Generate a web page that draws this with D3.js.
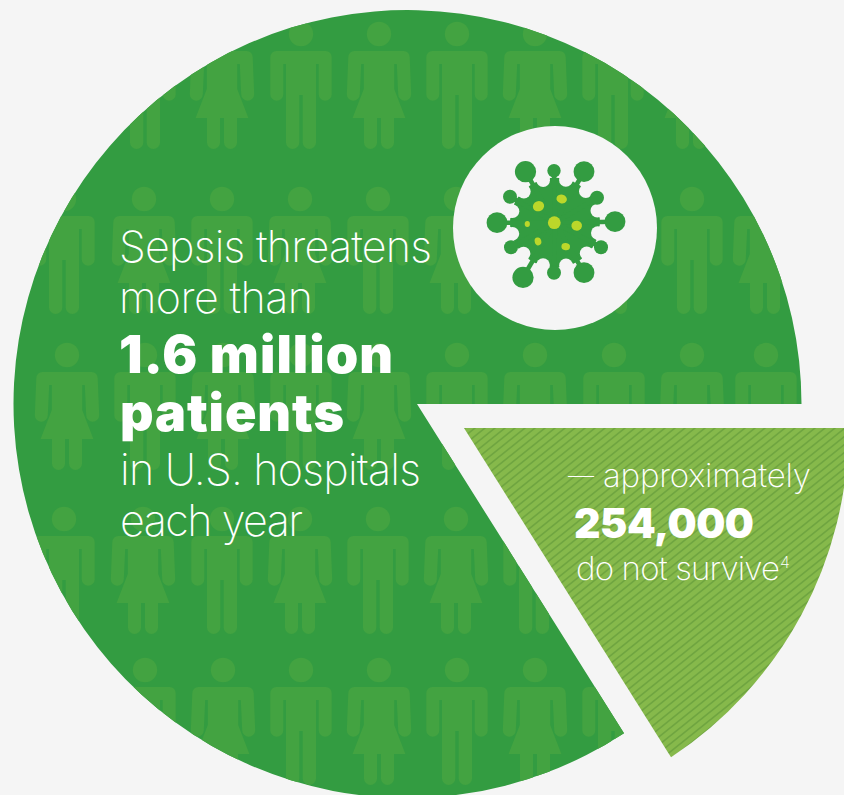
<!DOCTYPE html>
<html><head><meta charset="utf-8">
<script src="https://cdn.jsdelivr.net/npm/d3@7"></script>
<style>html,body{margin:0;padding:0;background:#f5f5f5;overflow:hidden}svg{display:block}</style>
</head><body><div id="chart"></div>
<script>
// ---- data ----
const sliceNames = ["do not survive", "survive"];
const sliceShares = [15.74, 84.26];          // % of 1.6 million patients, as drawn
const labelLight = ["Sepsis threatens", "more than", "in U.S. hospitals", "each year"];
const labelBold = ["1.6 million", "patients"];
const sliceLabels = ["—", "approximately", "254,000", "do not survive"];
const rowY = [34, 199, 355, 519, 670];
const rowX = [
  [145,222,301,379,457,535,613,691],
  [64,144,222,300,378,456,534,612,692,765],
  [67,145,223,301,379,457,535,614,692,766],
  [64,143,222,300,378,456,534],
  [145,223,301,379,457,535,613]
];
const rowFirst = ["M","M","W","M","M"];

const W = 844, H = 795;
const BG = "#f5f5f5", GREEN = "#339c41", FIG = "#43a341", LIME = "#86b94b", STRIPE = "#6fa540", YEL = "#bcd72a";
const svg = d3.select("#chart").append("svg").attr("width", W).attr("height", H);
const defs = svg.append("defs");
svg.append("rect").attr("width", W).attr("height", H).attr("fill", BG);

const pie = d3.pie().sort(null).startAngle(Math.PI/2).endAngle(Math.PI/2 + 2*Math.PI);
const arcs = pie(sliceShares);
const R = 394;
const wedge = (a, cx, cy, ax, ay) => {
  const p = d3.path();
  p.arc(cx, cy, R, a.startAngle - Math.PI/2, a.endAngle - Math.PI/2);
  p.lineTo(ax, ay);
  p.closePath();
  return p.toString();
};
const mainD = wedge(arcs[1], 407.5, 404, 417, 404);
defs.append("clipPath").attr("id","mainClip").append("path").attr("d", mainD);
svg.append("path").attr("d", mainD).attr("fill", GREEN);

// pictogram
const man = "M-24.7,0H24.7a6,6 0 0 1 6,6V43.2a6.5,6.5 0 0 1 -13,0V13H15V91.4a6.65,6.65 0 0 1 -13.3,0V44H-1.7V91.4a6.65,6.65 0 0 1 -13.3,0V13H-17.7V43.2a6.5,6.5 0 0 1 -13,0V6a6,6 0 0 1 6,-6Z";
const woman = "M-24.7,0H24.7a6,6 0 0 1 6,6L32.2,43.2a6.5,6.5 0 0 1 -13,0L17.8,13H15.2V38L26.4,67H15V91.4a6.5,6.5 0 0 1 -13,0V67H-2V91.4a6.5,6.5 0 0 1 -13,0V67H-26.4L-15.2,38V13H-17.8L-19.2,43.2a6.5,6.5 0 0 1 -13,0L-30.7,6a6,6 0 0 1 6,-6Z";
const gMain = svg.append("g").attr("clip-path","url(#mainClip)");
rowY.forEach((y, r) => {
  rowX[r].forEach((x, i) => {
    const isMan = (i % 2 === 0) === (rowFirst[r] === "M");
    gMain.append("circle").attr("cx", x).attr("cy", y).attr("r", 12.2).attr("fill", FIG);
    gMain.append("path").attr("d", isMan ? man : woman)
      .attr("transform", `translate(${x},${y+17})`).attr("fill", FIG);
  });
});

// white circle
svg.append("circle").attr("cx",555).attr("cy",228).attr("r",102).attr("fill",BG);

// virus
const vx = 555, vy = 222.7;
const blobs = [[-29.5,-51,10.6],[29,-51,10.4],[-58,0,10.4],[60,-1,10.4],[-32,54.7,10.6],[29,50,10.4],
               [-1,-52,6.7],[-45,-26,7],[42,-25,7],[-44,24.5,7],[46,24.5,7],[-1,50,7]];
const gV = svg.append("g").attr("transform",`translate(${vx},${vy})`);
gV.append("circle").attr("r",45).attr("fill",GREEN);
const angs = blobs.map(b => Math.atan2(b[1],b[0])).sort(d3.ascending);
angs.forEach((a,i) => {
  const nxt = i < angs.length-1 ? angs[i+1] : angs[0]+2*Math.PI, m = (a+nxt)/2;
  gV.append("circle").attr("cx",Math.cos(m)*44).attr("cy",Math.sin(m)*44).attr("r",6.8).attr("fill",BG);
  gV.append("circle").attr("cx",Math.cos(m)*52).attr("cy",Math.sin(m)*52).attr("r",10.5).attr("fill",BG);
});
blobs.forEach(([bx,by,br]) => {
  gV.append("line").attr("x1",0).attr("y1",0).attr("x2",bx).attr("y2",by)
    .attr("stroke",GREEN).attr("stroke-width",4.6);
  gV.append("circle").attr("cx",bx).attr("cy",by).attr("r",br).attr("fill",GREEN);
});
[[-0.7,0,6.4,6.4,0],[-16.5,-16.5,5.7,5,-20],[6.7,-23.7,5.3,4.3,15],[21.7,3,5.3,5,10],[-27.7,1.3,2.6,3,0],[-17,18.7,3.3,4,-15],[10.7,24,4.3,3.6,5]]
 .forEach(([ex,ey,rx,ry,rot]) => gV.append("ellipse").attr("rx",rx).attr("ry",ry)
   .attr("transform",`translate(${ex},${ey}) rotate(${rot})`).attr("fill",YEL));

// lime slice with stripes
const pat = defs.append("pattern").attr("id","stripes").attr("patternUnits","userSpaceOnUse")
  .attr("width",10).attr("height",8);
pat.append("rect").attr("width",10).attr("height",8).attr("fill",LIME);
[[-10,8,10,-8],[-10,16,20,-8],[0,16,20,0]].forEach(([a,b,c,d]) =>
  pat.append("line").attr("x1",a).attr("y1",b).attr("x2",c).attr("y2",d)
    .attr("stroke",STRIPE).attr("stroke-width",1.7));
svg.append("path").attr("d", wedge(arcs[0], 454.5, 428, 464, 428)).attr("fill","url(#stripes)");

// text
const LIGHT = "Inter", BOLD = "Inter";
const txt = (s,x,y,size,weight,len) => svg.append("text").attr("x",x).attr("y",y).attr("fill","#fff")
  .attr("font-family",weight>500?BOLD:LIGHT).attr("font-size",size).attr("font-weight",weight)
  .attr("textLength",len).attr("lengthAdjust","spacing").text(s);
txt(labelLight[0],119,262,43,200,313);
txt(labelLight[1],119,313,43,200,194);
txt(labelBold[0],119,373,52,900,274);
txt(labelBold[1],120,431,52,900,224);
txt(labelLight[2],120,485,43,200,301);
txt(labelLight[3],120,536,43,200,183);
txt(sliceLabels[0],568,484.5,26,200,26);
txt(sliceLabels[1],603,487,33,200,208);
txt(sliceLabels[2],574,538,41,900,180);
txt(sliceLabels[3],576,580,33,200,204);
txt("4",780,568,16,200,10);
</script></body></html>
